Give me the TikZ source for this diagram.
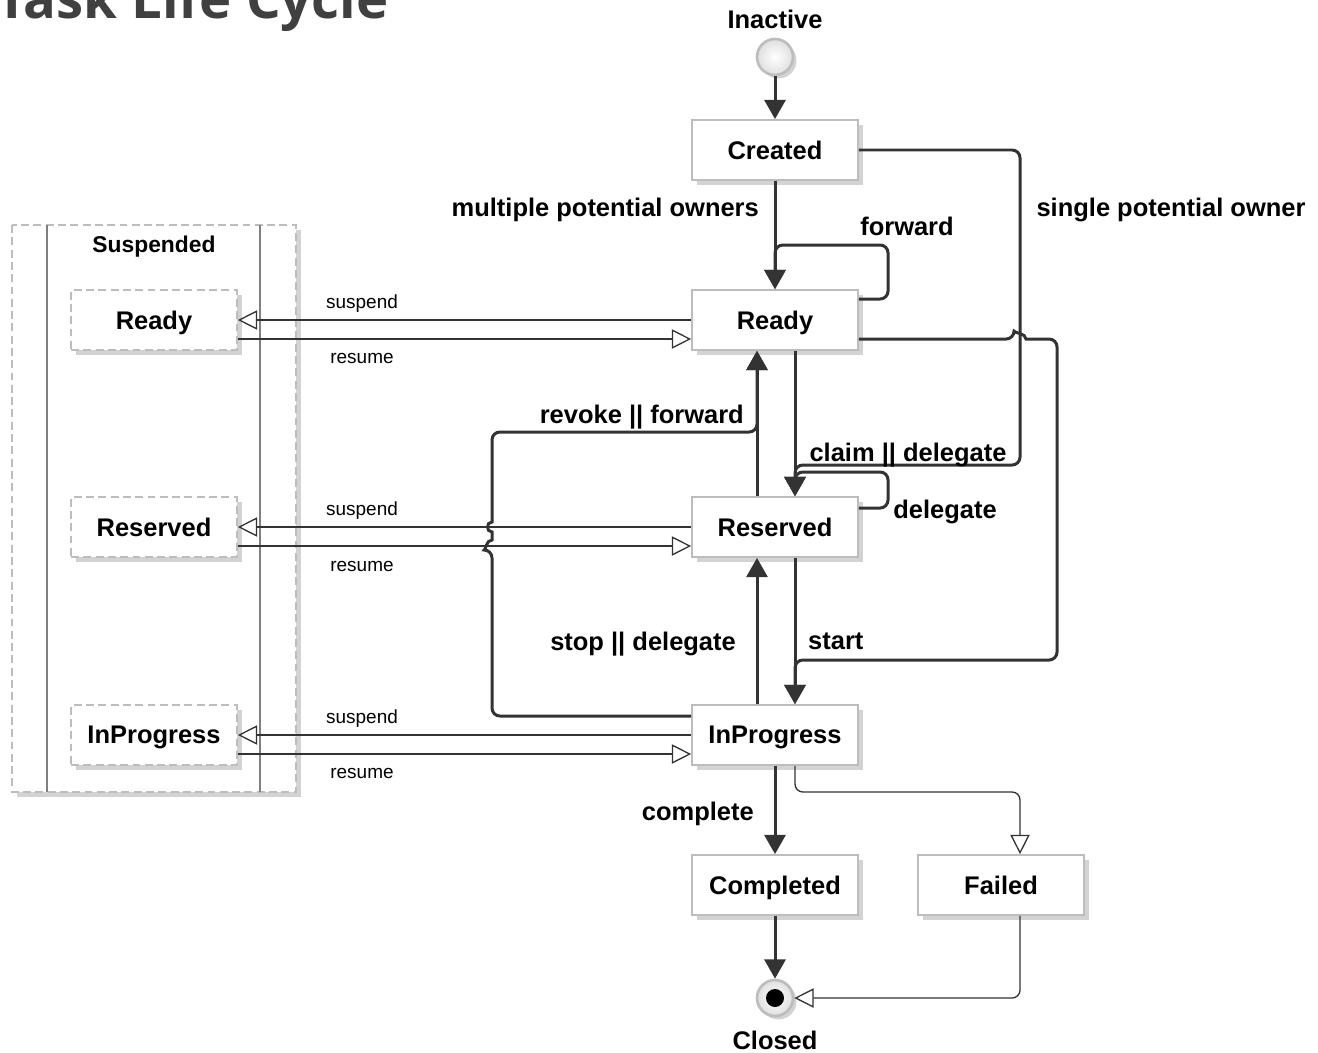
\documentclass[tikz,border=0pt]{standalone}
\usepackage{fontspec}
\setmainfont{Liberation Sans}
\newfontfamily\titlefont{Open Sans}
\usetikzlibrary{arrows.meta, calc, shadows, positioning}

\definecolor{linegray}{HTML}{333333}
\definecolor{boxgray}{HTML}{BDBDBD}
\definecolor{titlegray}{HTML}{404040}

\tikzset{
    state/.style={draw=boxgray, line width=1pt, fill=white, minimum width=3.32cm, minimum height=1.2cm,
        font=\fontsize{14.5}{16}\selectfont\bfseries, text depth=0pt,
        drop shadow={shadow xshift=0.1cm, shadow yshift=-0.1cm, opacity=0.35, fill=gray}},
    substate/.style={state, dash pattern=on 4.5pt off 2.5pt},
    trans/.style={draw=linegray, line width=1.7pt, -{Triangle[length=11pt, width=12pt]}, rounded corners=4.5pt},
    flow/.style={draw=linegray, line width=0.75pt, -{Triangle[open, length=11pt, width=11pt, fill=white]}, rounded corners=4.5pt},
    lbl/.style={font=\fontsize{14.5}{16}\selectfont\bfseries, text=black, text depth=0pt},
    note/.style={font=\fontsize{10.8}{12}\selectfont, text=black, text depth=0pt},
}

\begin{document}
\begin{tikzpicture}[x=0.02cm, y=-0.02cm]
    \useasboundingbox (0,0) rectangle (1318,1052);
    \clip (0,0) rectangle (1318,1052);

    \node[anchor=base east, text=titlegray, font=\titlefont\bfseries\fontsize{31}{34}\selectfont] (title) at (395,18) {Task Life Cycle};

    % suspended container
    \draw[draw=boxgray, line width=1pt, dash pattern=on 4.5pt off 2.5pt, fill=white,
        drop shadow={shadow xshift=0.1cm, shadow yshift=-0.1cm, opacity=0.35, fill=gray}] (12,225) rectangle (296,792);
    \draw[gray, line width=0.6pt] (47,225) -- (47,792) (260,225) -- (260,792);
    \node[font=\fontsize{13}{15}\selectfont\bfseries, text depth=0pt] (susplbl) at (154,244) {Suspended};
    \node[substate] (sready) at (154,320) {Ready};
    \node[substate] (sreserved) at (154,527) {Reserved};
    \node[substate] (sinprog) at (154,735) {InProgress};

    % states
    \node[circle, minimum size=0.72cm, draw=boxgray, line width=1.5pt, inner color=white, outer color=gray!25,
        drop shadow={shadow xshift=0.07cm, shadow yshift=-0.07cm, opacity=0.35, fill=gray}] (inactive) at (775,57) {};
    \node[lbl] (inactivelbl) at (775,19) {Inactive};
    \node[state] (created) at (775,150) {Created};
    \node[state] (ready) at (775,320) {Ready};
    \node[state] (reserved) at (775,527) {Reserved};
    \node[state] (inprog) at (775,735) {InProgress};
    \node[state] (completed) at (775,885) {Completed};
    \node[state] (failed) at (1001,885) {Failed};
    \node[circle, minimum size=0.72cm, draw=boxgray, line width=1.5pt, inner color=white, outer color=gray!25,
        drop shadow={shadow xshift=0.07cm, shadow yshift=-0.07cm, opacity=0.35, fill=gray}] (closed) at (775,998) {};
    \fill[black] (closed.center) circle[radius=9];
    \node[lbl] (closedlbl) at (775,1040) {Closed};

    % transitions
    \draw[trans] (inactive) -- (created);
    \draw[trans] (created) -- (ready);
    \node[lbl, anchor=east] at (765,207) {multiple potential owners};
    \draw[trans] ($(ready.east)+(0,-21)$) -| (888,245) -| (ready.north);
    \node[lbl] at (907,226) {forward};
    \draw[trans] (created.east) -| (1020,465) -| ($(reserved.north)+(20,0)$);
    \node[lbl] at (1171,207) {single potential owner};
    \draw[trans] ($(ready.south)+(20,0)$) -- ($(reserved.north)+(20,0)$);
    \node[lbl] at (908,452) {claim || delegate};
    \draw[trans] ($(reserved.east)+(0,-19)$) -| (888,472) -| ($(reserved.north)+(20,0)$);
    \node[lbl] at (945,509) {delegate};
    \draw[trans] ($(reserved.north)+(-18,0)$) -- ($(ready.south)+(-18,0)$);
    \node[lbl, anchor=east] at (750,414) {revoke || forward};
    \draw[trans] ($(inprog.west)+(0,-19)$) -- (492,716) -- (492,550) [sharp corners]
        .. controls (486,550) and (486,540) .. (492,540) -- (492,532)
        .. controls (486,532) and (486,522) .. (492,522) [rounded corners=4.5pt] -- (492,432) -- (757,432) -- ($(ready.south)+(-18,0)$);
    \draw[trans] ($(inprog.north)+(-18,0)$) -- ($(reserved.south)+(-18,0)$);
    \node[lbl, anchor=east] at (742,641) {stop || delegate};
    \draw[trans] ($(reserved.south)+(20,0)$) -- ($(inprog.north)+(20,0)$);
    \node[lbl, anchor=west] at (802,641) {start};
    \draw[trans] ($(ready.east)+(0,19)$) -- (1014,339) [sharp corners]
        .. controls (1014,333) and (1026,333) .. (1026,339) [rounded corners=4.5pt]
        -- (1057,339) -- (1057,660) -- (795,660) -- ($(inprog.north)+(20,0)$);
    \draw[trans] (inprog) -- (completed);
    \node[lbl, anchor=east] at (760,811) {complete};
    \draw[flow] ($(inprog.south)+(20,0)$) -- (795,792) -- (1020,792) -- ($(failed.north)+(19,0)$);
    \draw[trans] (completed) -- (closed);
    \draw[flow] ($(failed.south)+(19,0)$) |- (closed);

    % suspend / resume
    \draw[flow] (ready.west) -- (sready.east);
    \draw[flow] ($(sready.east)+(0,19)$) -- ($(ready.west)+(0,19)$);
    \node[note] at (362,302) {suspend};
    \node[note] at (362,358) {resume};
    \draw[flow] (reserved.west) -- (sreserved.east);
    \draw[flow] ($(sreserved.east)+(0,19)$) -- ($(reserved.west)+(0,19)$);
    \node[note] at (362,509) {suspend};
    \node[note] at (362,566) {resume};
    \draw[flow] (inprog.west) -- (sinprog.east);
    \draw[flow] ($(sinprog.east)+(0,19)$) -- ($(inprog.west)+(0,19)$);
    \node[note] at (362,717) {suspend};
    \node[note] at (362,773) {resume};
\end{tikzpicture}
\end{document}
